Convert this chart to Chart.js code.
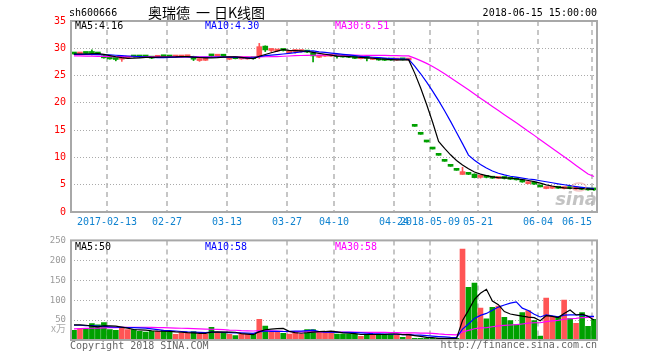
<!DOCTYPE html>
<html>
<head>
<meta charset="utf-8">
<script src="https://cdn.jsdelivr.net/npm/chart.js@4.4.1/dist/chart.umd.min.js"></script>
<style>
  html, body { margin: 0; padding: 0; background: #fff; }
  #wrap { position: relative; width: 660px; height: 360px; overflow: hidden; }
  canvas { position: absolute; left: 0; }
  #kChart { top: 0; width: 660px; height: 235px; }
  #volChart { top: 230px; width: 660px; height: 130px; }
</style>
</head>
<body>
<div id="wrap">
  <canvas id="kChart" width="660" height="235"></canvas>
  <canvas id="volChart" width="660" height="130"></canvas>
</div>
<script>
// ---- data ----
const dates = [
  '2017-02-03','2017-02-06','2017-02-07','2017-02-08','2017-02-09','2017-02-10',
  '2017-02-13','2017-02-14','2017-02-15','2017-02-16','2017-02-17',
  '2017-02-20','2017-02-21','2017-02-22','2017-02-23','2017-02-24',
  '2017-02-27','2017-02-28',
  '2017-03-01','2017-03-02','2017-03-03',
  '2017-03-06','2017-03-07','2017-03-08','2017-03-09','2017-03-10',
  '2017-03-13','2017-03-14','2017-03-15','2017-03-16','2017-03-17',
  '2017-03-20','2017-03-21','2017-03-22','2017-03-23','2017-03-24',
  '2017-03-27','2017-03-28','2017-03-29','2017-03-30','2017-03-31',
  '2017-04-05','2017-04-06','2017-04-07',
  '2017-04-10','2017-04-11','2017-04-12','2017-04-13','2017-04-14',
  '2017-04-17','2017-04-18','2017-04-19','2017-04-20','2017-04-21',
  '2017-04-24','2017-04-25','2017-04-26',
  '2018-05-04','2018-05-07','2018-05-08','2018-05-09','2018-05-10','2018-05-11',
  '2018-05-14','2018-05-15','2018-05-16','2018-05-17','2018-05-18',
  '2018-05-21','2018-05-22','2018-05-23','2018-05-24','2018-05-25',
  '2018-05-28','2018-05-29','2018-05-30','2018-05-31','2018-06-01',
  '2018-06-04','2018-06-05','2018-06-06','2018-06-07','2018-06-08',
  '2018-06-11','2018-06-12','2018-06-13','2018-06-14','2018-06-15'
];

const opens = [
  29.10, 28.95, 29.15, 29.10, 29.05, 28.60, 28.25, 28.10, 28.00, 28.20,
  28.60, 28.55, 28.50, 28.40, 28.35, 28.50, 28.45, 28.40, 28.40, 28.45,
  28.50, 27.75, 27.80, 28.75, 28.55, 28.60, 28.00, 28.20, 28.05, 28.05,
  28.15, 28.50, 30.40, 29.60, 29.50, 29.65, 29.20, 29.40, 29.40, 29.45,
  29.20, 28.35, 28.55, 28.55, 28.55, 28.50, 28.40, 28.30, 28.10, 28.20,
  27.95, 28.00, 27.90, 27.90, 27.85, 27.90, 27.85, 15.70, 14.24, 12.83,
  11.54, 10.39, 9.29, 8.37, 7.64, 6.88, 7.10, 6.95, 6.35, 6.40,
  6.30, 6.15, 6.25, 6.10, 6.00, 5.90, 5.20, 5.30, 4.60, 4.30,
  4.35, 4.40, 4.30, 4.35, 4.20, 4.25, 4.15, 4.10
];
const highs = [
  29.15, 29.15, 29.20, 29.70, 29.10, 28.70, 28.30, 28.15, 28.35, 28.45,
  28.65, 28.60, 28.55, 28.45, 28.60, 28.60, 28.50, 28.55, 28.55, 28.55,
  28.55, 28.15, 28.10, 28.85, 28.70, 28.65, 28.30, 28.25, 28.15, 28.20,
  28.25, 30.90, 30.45, 29.90, 29.70, 29.75, 29.55, 29.70, 29.55, 29.50,
  29.25, 28.65, 28.70, 28.65, 28.60, 28.55, 28.45, 28.35, 28.25, 28.50,
  28.05, 28.05, 27.95, 27.95, 27.95, 27.95, 27.95, 15.70, 14.24, 12.83,
  11.54, 10.39, 9.29, 8.37, 7.64, 8.20, 7.20, 7.00, 6.60, 6.55,
  6.40, 6.35, 6.30, 6.20, 6.10, 5.95, 5.45, 5.35, 4.60, 4.55,
  4.50, 4.45, 4.45, 4.40, 4.35, 4.30, 4.20, 4.15
];
const lows = [
  28.90, 28.90, 29.00, 28.80, 28.90, 28.20, 28.00, 27.70, 27.60, 28.15,
  28.35, 28.30, 28.30, 28.10, 28.30, 28.40, 28.35, 28.35, 28.35, 28.40,
  27.75, 27.60, 27.75, 28.50, 28.50, 28.50, 27.90, 28.05, 28.00, 28.00,
  28.00, 28.15, 29.40, 29.40, 29.40, 29.50, 29.15, 29.10, 29.30, 29.20,
  27.50, 28.30, 28.50, 28.50, 28.20, 28.35, 28.30, 28.10, 28.05, 27.70,
  27.90, 27.80, 27.75, 27.80, 27.80, 27.85, 27.80, 15.70, 14.24, 12.83,
  11.54, 10.39, 9.29, 8.37, 7.64, 6.88, 6.85, 6.25, 6.20, 6.25,
  6.15, 6.10, 6.05, 5.95, 5.85, 5.45, 5.15, 5.05, 4.60, 4.25,
  4.30, 4.30, 4.25, 4.25, 4.15, 4.10, 4.00, 3.95
];
const closes = [
  28.95, 29.10, 29.05, 29.05, 28.95, 28.25, 28.05, 27.95, 28.20, 28.35,
  28.40, 28.40, 28.40, 28.20, 28.55, 28.45, 28.40, 28.45, 28.50, 28.50,
  28.00, 28.10, 28.05, 28.60, 28.65, 28.55, 28.20, 28.10, 28.10, 28.12,
  28.10, 30.30, 29.70, 29.70, 29.55, 29.60, 29.50, 29.45, 29.45, 29.30,
  28.60, 28.60, 28.60, 28.60, 28.50, 28.40, 28.35, 28.15, 28.20, 28.15,
  28.00, 27.85, 27.80, 27.85, 27.90, 27.88, 27.90, 15.70, 14.24, 12.83,
  11.54, 10.39, 9.29, 8.37, 7.64, 7.40, 6.90, 6.30, 6.40, 6.35,
  6.20, 6.20, 6.15, 6.00, 5.90, 5.50, 5.30, 5.10, 4.60, 4.40,
  4.40, 4.35, 4.35, 4.30, 4.25, 4.15, 4.05, 4.05
];

const ma5Price = [
  28.95, 28.95, 28.95, 29.00, 29.02, 28.88, 28.67, 28.45, 28.28, 28.16,
  28.19, 28.26, 28.35, 28.35, 28.39, 28.40, 28.40, 28.41, 28.47, 28.46,
  28.37, 28.31, 28.23, 28.25, 28.28, 28.39, 28.41, 28.42, 28.32, 28.21,
  28.12, 28.54, 28.86, 29.18, 29.47, 29.77, 29.61, 29.56, 29.51, 29.46,
  29.26, 29.08, 28.91, 28.74, 28.58, 28.54, 28.49, 28.40, 28.32, 28.25,
  28.17, 28.07, 28.00, 27.93, 27.88, 27.86, 27.87, 25.45, 22.72, 19.71,
  16.44, 12.94, 11.66, 10.48, 9.45, 8.62, 7.92, 7.32, 6.93, 6.67,
  6.43, 6.29, 6.26, 6.18, 6.09, 5.95, 5.77, 5.56, 5.28, 4.98,
  4.76, 4.57, 4.42, 4.36, 4.33, 4.28, 4.22, 4.16
];
const ma10Price = [
  28.90, 28.90, 28.90, 28.88, 28.85, 28.82, 28.78, 28.72, 28.65, 28.59,
  28.54, 28.47, 28.40, 28.32, 28.28, 28.30, 28.33, 28.38, 28.41, 28.43,
  28.39, 28.36, 28.32, 28.36, 28.37, 28.38, 28.36, 28.33, 28.29, 28.25,
  28.26, 28.48, 28.64, 28.75, 28.84, 28.95, 29.08, 29.21, 29.35, 29.47,
  29.52, 29.35, 29.24, 29.13, 29.02, 28.90, 28.79, 28.66, 28.53, 28.42,
  28.36, 28.28, 28.20, 28.13, 28.07, 28.01, 27.97, 26.72, 25.33, 23.79,
  22.15, 20.40, 18.55, 16.60, 14.57, 12.53, 10.43, 9.49, 8.71, 8.06,
  7.52, 7.10, 6.79, 6.55, 6.38, 6.21, 6.05, 5.93, 5.73, 5.54,
  5.36, 5.17, 4.99, 4.82, 4.66, 4.52, 4.40, 4.30
];
const ma30Price = [
  28.60, 28.60, 28.58, 28.55, 28.52, 28.50, 28.48, 28.47, 28.46, 28.45,
  28.45, 28.45, 28.45, 28.44, 28.44, 28.44, 28.44, 28.44, 28.44, 28.44,
  28.43, 28.43, 28.43, 28.43, 28.43, 28.43, 28.43, 28.42, 28.42, 28.42,
  28.39, 28.43, 28.45, 28.47, 28.49, 28.54, 28.59, 28.64, 28.68, 28.71,
  28.72, 28.73, 28.73, 28.75, 28.74, 28.74, 28.74, 28.73, 28.72, 28.71,
  28.71, 28.70, 28.69, 28.67, 28.64, 28.62, 28.61, 28.20, 27.74, 27.23,
  26.68, 26.01, 25.33, 24.62, 23.89, 23.14, 22.39, 21.62, 20.85, 20.09,
  19.34, 18.59, 17.84, 17.09, 16.34, 15.58, 14.81, 14.04, 13.26, 12.47,
  11.68, 10.90, 10.12, 9.33, 8.54, 7.75, 6.96, 6.51
];

// volume, in 万 shares
const volumes = [
  24, 28, 28, 41, 38, 44, 26, 24, 30, 26,
  26, 22, 20, 22, 22, 24, 20, 14, 18, 17,
  21, 14, 14, 32, 20, 20, 14, 11, 14, 14,
  14, 52, 35, 22, 20, 17, 15, 18, 15, 26,
  26, 20, 20, 20, 15, 15, 15, 15, 9, 15,
  15, 15, 15, 15, 15, 7, 15, 4, 4, 4,
  4, 4, 4, 4, 4, 228, 132, 143, 80, 53,
  82, 85, 57, 49, 39, 69, 74, 49, 10, 105,
  59, 59, 100, 54, 42, 69, 34, 52
];
const ma5Vol = [
  38, 38, 37, 35, 33, 35.8, 35.4, 34.6, 32.4, 30,
  26.4, 25.6, 24.8, 23.2, 22.4, 22, 21.6, 20.4, 19.6, 18.6,
  18, 16.8, 16.8, 19.6, 20.2, 20, 20, 19.4, 15.8, 14.6,
  13.4, 21, 25.8, 27.4, 28.6, 29.2, 21.8, 18.4, 17, 18.2,
  20, 21, 21.4, 22.4, 20.2, 18, 17, 16, 13.8, 13.8,
  13.8, 13.8, 13.8, 15, 15, 13.4, 13.4, 11.2, 9.0, 6.8,
  6.2, 4, 4, 4, 4, 48.8, 74.4, 102.2, 117.4, 127.2,
  98, 88.6, 71.4, 65.2, 62.4, 59.8, 57.6, 56, 48.2, 61.4,
  59.4, 56.4, 66.6, 75.4, 62.8, 64.8, 59.8, 50.2
];
const ma10Vol = [
  37, 37, 36, 36, 35, 34, 33, 32, 31.5, 30.9,
  31.1, 30.5, 29.7, 27.8, 26.2, 24.2, 23.6, 22.6, 21.4, 20.5,
  20.0, 19.2, 18.6, 19.6, 19.4, 19.0, 18.4, 18.1, 17.7, 17.4,
  16.7, 20.5, 22.6, 21.6, 21.6, 21.3, 21.4, 22.1, 22.2, 23.4,
  24.6, 21.4, 19.9, 19.7, 19.2, 19.0, 19.0, 18.7, 18.1, 17.0,
  15.9, 15.4, 14.9, 14.4, 14.4, 13.6, 13.6, 12.5, 12.0, 10.9,
  9.8, 8.7, 7.6, 6.5, 6.2, 27.5, 40.3, 54.2, 61.8, 66.7,
  74.5, 82.6, 87.9, 92.4, 95.9, 80.0, 74.2, 64.8, 57.8, 63.0,
  60.7, 58.1, 62.4, 62.9, 63.2, 63.2, 59.2, 59.5
];
const ma30Vol = [
  28, 28.5, 29, 29.5, 30, 30.5, 31, 31, 31.5, 31.5,
  32, 32, 32, 31.5, 31, 31, 30.5, 30, 29.5, 29,
  28.5, 28, 27.5, 27, 26.5, 26, 25, 24.5, 23.5, 22.9,
  22.6, 23.4, 23.6, 23.0, 22.4, 21.5, 21.1, 20.9, 20.4, 20.4,
  20.4, 20.3, 20.3, 20.3, 20.1, 19.8, 19.6, 19.7, 19.4, 19.3,
  19.1, 19.1, 19.2, 18.6, 18.4, 18.0, 18.0, 17.8, 17.4, 17.1,
  16.8, 15.2, 14.2, 13.6, 13.1, 20.1, 24.0, 28.2, 30.4, 31.3,
  33.2, 35.4, 36.6, 37.6, 38.4, 40.2, 42.2, 43.3, 43.3, 46.3,
  47.8, 49.3, 52.1, 53.4, 54.3, 56.4, 57.0, 58.6
];

// x tick labels (index into dates)
const tickIdx  = [6, 16, 26, 36, 44, 54, 60, 68, 78, 87];
const tickText = ['2017-02-13', '02-27', '03-13', '03-27', '04-10', '04-24',
                  '2018-05-09', '05-21', '06-04', '06-15'];

const priceMaText = ['MA5:4.16', 'MA10:4.30', 'MA30:6.51'];
const volMaText   = ['MA5:50', 'MA10:58', 'MA30:58'];
const stockCode   = 'sh600666';
const titleParts  = ['奥瑞德', '一', '日K线图'];
const stampText   = '2018-06-15 15:00:00';

// ---- styling ----
const MONO = '"DejaVu Sans Mono", "Liberation Mono", monospace';
const UP = '#ff5555';
const DOWN = '#00a000';
const MA_COLORS = ['#000000', '#0000ff', '#ff00ff'];
const FRAME = '#a8a8a8';

const candleColors = closes.map((c, i) => {
  if (c > opens[i]) return UP;
  if (c < opens[i]) return DOWN;
  return (i > 0 && c < closes[i - 1]) ? DOWN : UP;
});
const bodies = closes.map((c, i) => [Math.min(c, opens[i]), Math.max(c, opens[i])]);
const wicks  = closes.map((c, i) => [lows[i], highs[i]]);

function maLine(values, color) {
  return {
    type: 'line',
    data: values,
    borderColor: color,
    borderWidth: 1.2,
    pointRadius: 0,
    tension: 0,
    fill: false,
    order: 0,
  };
}

// dashed vertical lines at the date ticks + the gray frame
const panelFrame = {
  id: 'panelFrame',
  beforeDatasetsDraw(chart) {
    const { ctx, chartArea: a, scales: { x } } = chart;
    ctx.save();
    ctx.strokeStyle = '#b4b4b4';
    ctx.lineWidth = 1.5;
    ctx.setLineDash([5, 4]);
    tickIdx.forEach(i => {
      const px = Math.round(x.getPixelForValue(i) - 2.5);
      ctx.beginPath();
      ctx.moveTo(px, a.top);
      ctx.lineTo(px, a.bottom);
      ctx.stroke();
    });
    ctx.restore();
  },
  afterDraw(chart) {
    const { ctx, chartArea: a } = chart;
    ctx.save();
    ctx.strokeStyle = FRAME;
    ctx.lineWidth = 2;
    ctx.strokeRect(a.left, a.top, a.right - a.left, a.bottom - a.top);
    ctx.restore();
  }
};

function drawLegend(ctx, texts, top) {
  ctx.font = '10px ' + MONO;
  ctx.textBaseline = 'middle';
  ctx.textAlign = 'left';
  const xs = [75, 205, 335];
  texts.forEach((t, i) => {
    ctx.fillStyle = MA_COLORS[i];
    ctx.fillText(t, xs[i], top);
  });
}

const priceText = {
  id: 'priceText',
  afterDraw(chart) {
    const { ctx, scales: { x } } = chart;
    ctx.save();
    // header row
    ctx.fillStyle = '#000';
    ctx.textBaseline = 'middle';
    ctx.font = '10px ' + MONO;
    ctx.textAlign = 'left';
    ctx.fillText(stockCode, 69, 13);
    ctx.textAlign = 'right';
    ctx.fillText(stampText, 597, 13);
    ctx.textAlign = 'left';
    ctx.font = '14px "Noto Sans CJK SC", sans-serif';
    ctx.fillText(titleParts[0], 148, 13);
    ctx.fillText(titleParts[1], 196, 13);
    ctx.fillText(titleParts[2], 214, 13);

    drawLegend(ctx, priceMaText, 26);

    // date labels
    ctx.font = '10px ' + MONO;
    ctx.fillStyle = '#1083d0';
    tickIdx.forEach((idx, k) => {
      const px = Math.round(x.getPixelForValue(idx) - 2.5);
      ctx.textAlign = (k === tickIdx.length - 1) ? 'right' : 'center';
      ctx.fillText(tickText[k], px, 222);
    });

    // sina watermark
    ctx.strokeStyle = 'rgba(235,150,150,0.55)';
    ctx.lineWidth = 1.5;
    ctx.beginPath();
    ctx.ellipse(579, 187, 7, 4, 0, 0, Math.PI * 2);
    ctx.stroke();
    ctx.font = 'italic bold 18px "DejaVu Sans", sans-serif';
    ctx.fillStyle = 'rgba(175,175,175,0.75)';
    ctx.textAlign = 'right';
    ctx.fillText('sina', 597, 200);
    ctx.restore();
  }
};

// volume canvas starts at y=230 on the page
const volText = {
  id: 'volText',
  afterDraw(chart) {
    const { ctx } = chart;
    ctx.save();
    drawLegend(ctx, volMaText, 17);
    ctx.font = '10px ' + MONO;
    ctx.fillStyle = '#666';
    ctx.textAlign = 'left';
    ctx.fillText('Copyright 2018 SINA.COM', 70, 116);
    ctx.textAlign = 'right';
    ctx.fillText('http://finance.sina.com.cn', 597, 115);
    ctx.fillStyle = '#aaa';
    ctx.font = '10px "Noto Sans CJK SC", sans-serif';
    ctx.fillText('x万', 66, 98);
    ctx.restore();
  }
};

const hideEdges = (lo, hi) => (c) =>
  (c.tick.value === lo || c.tick.value === hi) ? 'rgba(0,0,0,0)' : '#aaaaaa';

// ---- price (K-line) panel ----
new Chart(document.getElementById('kChart'), {
  type: 'bar',
  data: {
    labels: dates,
    datasets: [
      maLine(ma5Price, MA_COLORS[0]),
      maLine(ma10Price, MA_COLORS[1]),
      maLine(ma30Price, MA_COLORS[2]),
      { data: bodies, backgroundColor: candleColors, barThickness: 5, minBarLength: 2, order: 1 },
      { data: wicks, backgroundColor: candleColors, barThickness: 1, order: 2 },
    ]
  },
  options: {
    responsive: false,
    animation: false,
    layout: { padding: { left: 0, right: 63, top: 21, bottom: 0 } },
    datasets: { bar: { grouped: false } },
    plugins: { legend: { display: false }, tooltip: { enabled: false } },
    scales: {
      x: {
        offset: true,
        grid: { display: false },
        border: { display: false },
        ticks: { display: false },
        afterFit: (s) => { s.height = 23; },
      },
      y: {
        min: 0,
        max: 35,
        ticks: { stepSize: 5, color: '#ff0000', padding: 5, font: { family: MONO, size: 10 } },
        grid: { drawTicks: false, color: hideEdges(0, 35), lineWidth: 1 },
        border: { display: false, dash: [1, 2] },
        afterFit: (s) => { s.width = 71; },
      }
    }
  },
  plugins: [panelFrame, priceText]
});

// ---- volume panel ----
new Chart(document.getElementById('volChart'), {
  type: 'bar',
  data: {
    labels: dates,
    datasets: [
      maLine(ma5Vol, MA_COLORS[0]),
      maLine(ma10Vol, MA_COLORS[1]),
      maLine(ma30Vol, MA_COLORS[2]),
      { data: volumes, backgroundColor: candleColors, barThickness: 5, minBarLength: 1, order: 1 },
    ]
  },
  options: {
    responsive: false,
    animation: false,
    layout: { padding: { left: 0, right: 63, top: 0, bottom: 0 } },
    plugins: { legend: { display: false }, tooltip: { enabled: false } },
    scales: {
      x: {
        offset: true,
        grid: { display: false },
        border: { display: false },
        ticks: { display: false },
        afterFit: (s) => { s.height = 20; },
      },
      y: {
        min: 0,
        max: 250,
        ticks: {
          stepSize: 50, color: '#9a9a9a', padding: 5,
          font: { family: MONO, size: 9 },
          callback: (v) => v === 0 ? '' : v,
        },
        grid: { drawTicks: false, color: hideEdges(0, 250), lineWidth: 1 },
        border: { display: false, dash: [1, 2] },
        afterFit: (s) => { s.width = 71; },
      }
    }
  },
  plugins: [panelFrame, volText]
});
</script>
</body>
</html>
